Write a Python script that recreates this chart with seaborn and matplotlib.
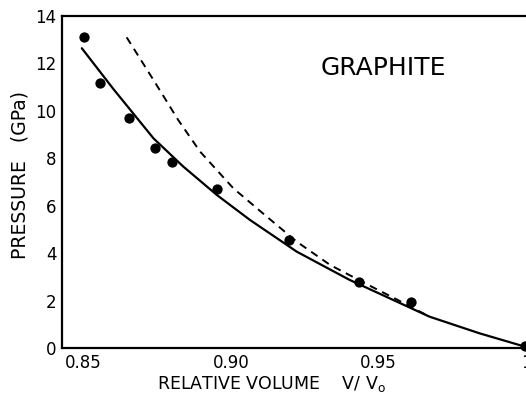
import matplotlib
matplotlib.use("Agg")
import matplotlib.pyplot as plt
import seaborn as sns
import pandas as pd

# measured data points
vol_pts = [0.8502, 0.8556, 0.8654, 0.8742, 0.8799, 0.8954, 0.9195, 0.9433, 0.9610, 0.9996]
p_pts = [13.13, 11.19, 9.70, 8.42, 7.83, 6.69, 4.57, 2.77, 1.93, 0.10]

# solid fitted curve
vol_fit = [0.8494, 0.8601, 0.8737, 0.8838, 0.8952, 0.9064, 0.9223, 0.9402, 0.9673, 0.9842, 0.9998]
p_fit = [12.64, 10.92, 8.84, 7.65, 6.45, 5.40, 4.06, 2.87, 1.32, 0.62, 0.05]

# dashed curve
vol_dash = [0.8646, 0.8737, 0.8821, 0.8895, 0.9008, 0.9121, 0.9223, 0.9336, 0.9465, 0.9566, 0.9673]
p_dash = [13.10, 11.30, 9.61, 8.28, 6.73, 5.54, 4.48, 3.50, 2.66, 2.02, 1.32]

x_ticks = [0.85, 0.90, 0.95, 1.00]
x_labels = ["0.85", "0.90", "0.95", "1"]
y_ticks = [0, 2, 4, 6, 8, 10, 12, 14]

sns.set_theme(style="white")
plt.rcParams['font.family'] = ['DejaVu Sans']

fig = plt.figure(figsize=(5.26, 3.94), dpi=100)
ax = fig.add_axes([0.118, 0.1168, 0.882, 0.8426])

df_fit = pd.DataFrame({"v": vol_fit, "p": p_fit})
df_dash = pd.DataFrame({"v": vol_dash, "p": p_dash})
df_pts = pd.DataFrame({"v": vol_pts, "p": p_pts})

sns.lineplot(data=df_fit, x="v", y="p", sort=False, color="black", linewidth=1.6, ax=ax)
sns.lineplot(data=df_dash, x="v", y="p", sort=False, color="black", linewidth=1.4,
             ax=ax, linestyle=(0, (4, 3)))
sns.scatterplot(data=df_pts, x="v", y="p", color="black", s=55, edgecolor="black",
                linewidth=0, ax=ax, clip_on=False, zorder=5)

ax.set_xlim(0.8427, 1.0)
ax.set_ylim(0, 14)
ax.set_xticks(x_ticks)
ax.set_xticklabels(x_labels)
ax.set_yticks(y_ticks)
ax.tick_params(direction="in", length=6, width=1.4, labelsize=12, colors="black", pad=4)

for side in ["left", "bottom", "top"]:
    ax.spines[side].set_visible(True)
    ax.spines[side].set_linewidth(1.6)
    ax.spines[side].set_color("black")
ax.spines["right"].set_visible(False)

ax.set_xlabel(r"RELATIVE VOLUME    V/ V$_\mathregular{o}$", fontsize=12.5, color="black")
ax.xaxis.set_label_coords(0.4515, -0.077)
ax.set_ylabel("PRESSURE   (GPa)", fontsize=13.5, color="black")
ax.yaxis.set_label_coords(-0.07, 0.521)

ax.text(0.9517, 11.81, "GRAPHITE", fontsize=18, ha="center", va="center", color="black")

fig.savefig("out.png", dpi=100)
